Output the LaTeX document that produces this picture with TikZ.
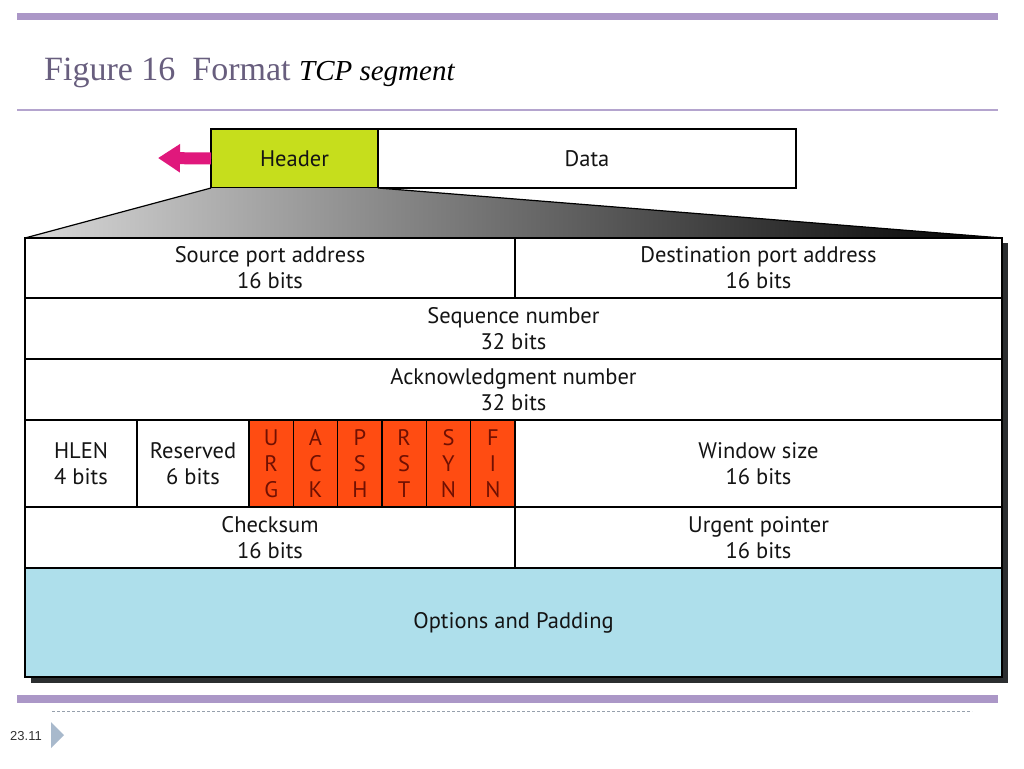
\documentclass[tikz,border=0pt]{standalone}
\usepackage{fontspec}
\setmainfont{Liberation Serif}
\newfontfamily\figfont{PT Sans}
\newfontfamily\pagefont{Liberation Sans}
\usetikzlibrary{arrows.meta,positioning,backgrounds}

\definecolor{barpurple}{RGB}{171,151,199}
\definecolor{linepurple}{RGB}{180,164,206}
\definecolor{titlegray}{RGB}{104,94,126}
\definecolor{headgreen}{RGB}{198,222,28}
\definecolor{flagred}{RGB}{255,76,18}
\definecolor{flagtext}{RGB}{112,16,2}
\definecolor{optblue}{RGB}{174,223,235}
\definecolor{arrowpink}{RGB}{224,24,124}
\definecolor{shadowgray}{RGB}{43,46,48}
\definecolor{tripblue}{RGB}{168,185,204}
\definecolor{dashgray}{RGB}{150,160,172}

\begin{document}
\begin{tikzpicture}[
  x=1pt, y=-1pt,
  cell/.style={draw, line width=1.4pt, fill=white, inner sep=0pt, outer sep=0pt, align=center,
    text=black!92, font=\figfont\fontsize{22.5}{26}\selectfont},
  flag/.style={cell, fill=flagred, text=flagtext, minimum width=44.33pt, minimum height=87pt, anchor=north west},
  bar/.style={fill=barpurple, draw=none}
]
\useasboundingbox (0,0) rectangle (1024,768);

\fill[bar] (17,13) rectangle (998,20);
\node[anchor=base west, inner sep=0pt, text=titlegray, font=\fontsize{34}{34}\selectfont] (title) at (44,81)
  {Figure 16\enspace Format \textcolor{black}{\fontsize{29}{29}\selectfont\itshape TCP segment}};
\draw[line width=2pt, linepurple] (17,110) -- (998,110);

\node[cell, fill=headgreen, minimum width=167pt, minimum height=59pt, anchor=north west] (header) at (211,129) {Header};
\node[cell, minimum width=418pt, minimum height=59pt, right=0pt of header] (data) {Data};
\coordinate (out) at (158,158);
\draw[-{Triangle[length=22pt,width=27pt]}, line width=12pt, arrowpink] (header.west) -- (out);

\shade[left color=black!15, right color=black] (header.south west) -- (header.south east) -- (1002,238) -- (25,238) -- cycle;
\draw[line width=1.2pt] (25,238) -- (header.south west) (header.south east) -- (1002,238);

\node[cell, minimum width=490pt, minimum height=60pt, anchor=north west] (src) at (25,238) {Source port address\\16 bits};
\node[cell, minimum width=487pt, minimum height=60pt, right=0pt of src] (dst) {Destination port address\\16 bits};
\node[cell, minimum width=977pt, minimum height=61pt, below right=0pt of src.south west] (seq) {Sequence number\\32 bits};
\node[cell, minimum width=977pt, minimum height=61pt, below right=0pt of seq.south west] (ack) {Acknowledgment number\\32 bits};
\node[cell, minimum width=112pt, minimum height=87pt, below right=0pt of ack.south west] (hlen) {HLEN\\4 bits};
\node[cell, minimum width=112pt, minimum height=87pt, right=0pt of hlen] (resv) {Reserved\\6 bits};
\foreach \a/\b/\c [count=\i] in {U/R/G, A/C/K, P/S/H, R/S/T, S/Y/N, F/I/N}
  \node[flag] (flag\i) at ({249+(\i-1)*44.33},420) {\a\\\b\\\c};
\node[cell, minimum width=487pt, minimum height=87pt, right=0pt of flag6] (win) {Window size\\16 bits};
\node[cell, minimum width=490pt, minimum height=61pt, below right=0pt of hlen.south west] (chk) {Checksum\\16 bits};
\node[cell, minimum width=487pt, minimum height=61pt, right=0pt of chk] (urg) {Urgent pointer\\16 bits};
\node[cell, fill=optblue, minimum width=977pt, minimum height=109pt, below right=0pt of chk.south west] (opts) {Options and Padding};

\begin{scope}[on background layer]
  \fill[white] (0,0) rectangle (1024,768);
  \fill[shadowgray] ([shift={(6,5)}]src.north west) rectangle ([shift={(6,6)}]opts.south east);
\end{scope}

\fill[bar] (17,695) rectangle (998,703);
\draw[dashgray, line width=0.8pt, dash pattern=on 3pt off 2pt] (52,711) -- (972,711);
\node[anchor=base west, inner sep=0pt, text=black!80, font=\pagefont\fontsize{13}{13}\selectfont] (page) at (10,740) {23.11};
\fill[tripblue] (51,722) -- (64,735) -- (51,748) -- cycle;
\end{tikzpicture}
\end{document}
